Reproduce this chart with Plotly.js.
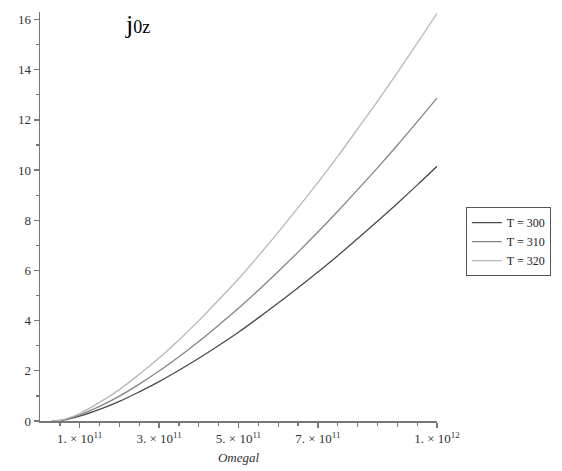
<!DOCTYPE html>
<html>
<head>
<meta charset="utf-8">
<script src="https://cdn.plot.ly/plotly-3.0.1.min.js"></script>
<style>html,body{margin:0;padding:0;background:#fff;}#chart{width:562px;height:471px;}</style>
</head>
<body>
<div id="chart"></div>
<script>
// Omega values (x), units of 1e11
const omega = [0.3, 0.5, 0.75, 1, 1.5, 2, 2.5, 3, 3.5, 4, 4.5, 5, 5.5, 6, 6.5, 7, 7.5, 8, 8.5, 9, 9.5, 10];
const j300 = [0, 0.01, 0.09, 0.19, 0.46, 0.78, 1.16, 1.57, 2.02, 2.50, 3.01, 3.54, 4.11, 4.70, 5.31, 5.94, 6.59, 7.27, 7.96, 8.67, 9.40, 10.15];
const j310 = [0, 0.02, 0.11, 0.24, 0.58, 0.99, 1.47, 1.99, 2.56, 3.17, 3.82, 4.49, 5.21, 5.96, 6.73, 7.53, 8.36, 9.22, 10.09, 10.99, 11.92, 12.87];
const j320 = [0, 0.02, 0.14, 0.30, 0.74, 1.25, 1.86, 2.51, 3.23, 4.00, 4.82, 5.67, 6.58, 7.52, 8.50, 9.51, 10.55, 11.64, 12.74, 13.88, 15.05, 16.25];
const seriesNames = ["T = 300", "T = 310", "T = 320"];
const seriesColors = ["#4a4a4a", "#848484", "#b8b8b8"];
const xTickVals = [1e11, 3e11, 5e11, 7e11, 1e12];
const xTickText = ["1. × 10<sup>11</sup>", "3. × 10<sup>11</sup>", "5. × 10<sup>11</sup>", "7. × 10<sup>11</sup>", "1. × 10<sup>12</sup>"];
const xUnlabeledVals = [2e11, 4e11, 6e11, 8e11, 9e11];
const xMinorVals = [0.5e11, 1.5e11, 2.5e11, 3.5e11, 4.5e11, 5.5e11, 6.5e11, 7.5e11, 8.5e11, 9.5e11];

const xs = omega.map(v => v * 1e11);
const data = [j300, j310, j320].map((ys, i) => ({
  x: xs, y: ys, type: 'scatter', mode: 'lines', name: seriesNames[i],
  line: {color: seriesColors[i], width: 1.3, shape: 'spline'}
}));
// invisible helper trace to activate the overlay x axis carrying the unlabeled major ticks
data.push({x: [0], y: [0], xaxis: 'x2', yaxis: 'y', mode: 'markers', marker: {opacity: 0}, showlegend: false, hoverinfo: 'skip'});

const serif = 'Liberation Serif, DejaVu Serif, serif';
const layout = {
  width: 562, height: 471,
  margin: {l: 40, r: 124, t: 12, b: 50},
  paper_bgcolor: '#fff', plot_bgcolor: '#fff',
  showlegend: true,
  legend: {
    x: 1.07, y: 0.523, xanchor: 'left', yanchor: 'top',
    bordercolor: '#555', borderwidth: 1, bgcolor: '#fff',
    font: {family: serif, size: 12, color: '#222'},
    tracegroupgap: 0
  },
  xaxis: {
    range: [0, 1e12], showgrid: false, zeroline: false, automargin: false,
    showline: true, linecolor: '#777', linewidth: 1.5,
    tickmode: 'array', tickvals: xTickVals, ticktext: xTickText,
    ticks: 'outside', ticklen: 5, tickwidth: 1.3, tickcolor: '#777',
    minor: {tickmode: 'array', tickvals: xMinorVals, ticks: 'outside', ticklen: 3, tickwidth: 1.3, tickcolor: '#777'},
    tickfont: {family: serif, size: 13, color: '#333'},
    title: {text: '<i>Omegal</i>', font: {family: serif, size: 13, color: '#333'}, standoff: 8}
  },
  xaxis2: {
    overlaying: 'x', anchor: 'y', side: 'bottom', matches: 'x', automargin: false,
    range: [0, 1e12], showgrid: false, zeroline: false, showline: false,
    tickmode: 'array', tickvals: xUnlabeledVals, showticklabels: false,
    ticks: 'outside', ticklen: 5, tickwidth: 1.3, tickcolor: '#777'
  },
  yaxis: {
    range: [0, 16.3], showgrid: false, zeroline: false, automargin: false,
    showline: true, linecolor: '#777', linewidth: 1.5,
    tickmode: 'linear', tick0: 0, dtick: 2,
    ticks: 'outside', ticklen: 5, tickwidth: 1.3, tickcolor: '#777',
    minor: {dtick: 1, ticks: 'outside', ticklen: 3, tickwidth: 1.3, tickcolor: '#777'},
    tickfont: {family: serif, size: 13, color: '#333'}
  },
  annotations: [{
    xref: 'paper', yref: 'paper', x: (138 - 40) / 398, y: (421 - 24) / 409,
    xanchor: 'center', yanchor: 'middle', showarrow: false,
    text: "j<span style='font-size:18px'>0z</span>",
    font: {family: serif, size: 26, color: '#000'}
  }]
};
Plotly.newPlot('chart', data, layout, {displayModeBar: false, staticPlot: true});
</script>
</body>
</html>
